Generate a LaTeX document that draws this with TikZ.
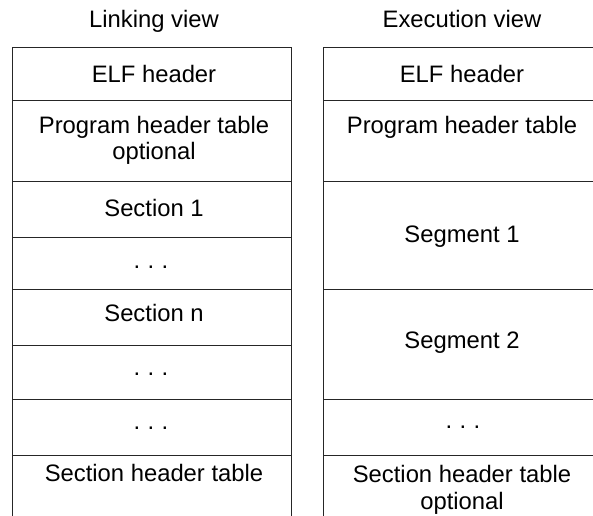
\documentclass[tikz,border=0pt]{standalone}
\usepackage{fontspec}
\setmainfont{Liberation Sans}
\begin{document}
\begin{tikzpicture}[x=1pt,y=-1pt,
  rule/.style={line width=1pt, draw=black!85},
  lbl/.style={anchor=base, inner sep=0pt, align=center,
    font=\fontsize{23.8}{26.5}\selectfont},
  dots/.style={lbl}]
\useasboundingbox (0,0) rectangle (593,515);
\clip (0,0) rectangle (593,515);
\newcommand{\vdotsrow}{.\hspace{7.4pt}.\hspace{7.4pt}.}

% ---- linking view column ----
\draw[rule] (12,520) -- (12,47.7) -- (291.7,47.7) -- (291.7,520);
\foreach \yy in {100,181,237.5,289.3,345.7,399.3,455.3}
  \draw[rule] (12,\yy) -- (291.7,\yy);

% two-line labels are anchored at the baseline of their last line
\node[lbl] (ltitle) at (154,27.3) {Linking view};
\node[lbl] (lelf)   at (154,82)   {ELF header};
\node[lbl] (lpht)   at (154,159.5) {Program header table\\optional};
\node[lbl] (lsec1)  at (154,216)  {Section 1};
\node[dots] (ldots1) at (151,268.5) {\vdotsrow};
\node[lbl] (lsecn)  at (154,321.7) {Section n};
\node[dots] (ldots2) at (151,375)  {\vdotsrow};
\node[dots] (ldots3) at (151,429)  {\vdotsrow};
\node[lbl] (lsht)   at (154,481.7) {Section header table};

% ---- execution view column ----
\draw[rule] (323.5,520) -- (323.5,47.7) -- (600,47.7) -- (600,520);
\foreach \yy in {100,181,289.5,399.3,455.3}
  \draw[rule] (323.5,\yy) -- (600,\yy);

\node[lbl] (rtitle) at (462,27)    {Execution view};
\node[lbl] (relf)   at (462,82)    {ELF header};
\node[lbl] (rpht)   at (462,133)   {Program header table};
\node[lbl] (rseg1)  at (462,242)   {Segment 1};
\node[lbl] (rseg2)  at (462,348.5) {Segment 2};
\node[dots] (rdots) at (463,428.5) {\vdotsrow};
\node[lbl] (rsht)   at (462,509.2) {Section header table\\optional};
\end{tikzpicture}
\end{document}
